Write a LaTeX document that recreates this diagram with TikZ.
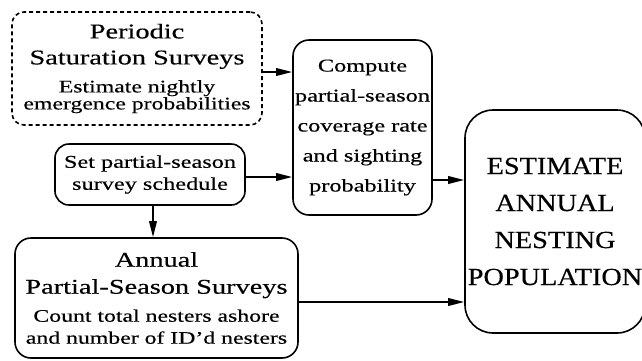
\documentclass[tikz,border=0pt]{standalone}
\usepackage{fontspec}
\setmainfont{Liberation Serif}[FakeStretch=1.35,FakeBold=0.4]
\newfontfamily\estfont{Liberation Serif}[FakeStretch=1.15,FakeBold=0.4]
\usetikzlibrary{arrows.meta}
\newcommand{\ttl}{\fontsize{10.5}{0}\selectfont}
\newcommand{\sml}{\fontsize{8.8}{0}\selectfont}
\newcommand{\mdm}{\fontsize{9}{0}\selectfont}
\newcommand{\tightlines}{\baselineskip=0pt\lineskiplimit=-100pt\lineskip=0pt}

\begin{document}
\begin{tikzpicture}[x=0.5pt,y=-0.5pt,
		box/.style={draw,line width=0.8pt,rounded corners=7pt,align=center,inner sep=0pt,font=\tightlines},
		arr/.style={-{Triangle[length=8pt,width=3.8pt]},line width=0.9pt}]
			% 図の範囲
			\useasboundingbox (0,0) rectangle (642,360);
			\clip (0,0) rectangle (642,360);
			% ノードの配置
			\node[box,dash pattern=on 2pt off 1.5pt,rounded corners=6pt,minimum width=125pt,minimum height=56.5pt] (sat) at (137,68.5)
				{\ttl Periodic\\[13pt]\ttl Saturation Surveys\\[14pt]\sml Estimate nightly\\[8.5pt]\sml emergence probabilities};
			\node[box,minimum width=95pt,minimum height=30.5pt] (sched) at (150,174.5)
				{\mdm Set partial-season\\[11pt]\mdm survey schedule};
			\node[box,rounded corners=8pt,minimum width=141.5pt,minimum height=60pt] (annual) at (156.5,298)
				{\ttl Annual\\[13.5pt]\ttl Partial-Season Surveys\\[14pt]\sml Count total nesters ashore\\[11pt]\sml and number of ID'd nesters};
			\node[box,rounded corners=8pt,minimum width=69.5pt,minimum height=87.5pt] (comp) at (362.5,127.5)
				{\mdm Compute\\[15pt]\mdm partial-season\\[15pt]\mdm coverage rate\\[15pt]\mdm and sighting\\[15pt]\mdm probability};
			\node[box,rounded corners=14pt,minimum width=90pt,minimum height=111.5pt] (est) at (555,221.5)
				{\estfont\fontsize{12.3}{0}\selectfont ESTIMATE\\[18.5pt]\estfont\fontsize{12.3}{0}\selectfont ANNUAL\\[18.5pt]\estfont\fontsize{12.3}{0}\selectfont NESTING\\[18.5pt]\estfont\fontsize{12.3}{0}\selectfont POPULATION};
			% 矢印の描画
			\draw[arr] ([yshift=-1.75pt]sat.east) -- ([yshift=-1.75pt]sat.east -| comp.west);
			\draw[arr] ([yshift=-1.25pt]sched.east) -- ([yshift=-1.25pt]sched.east -| comp.west);
			\draw[arr] ([xshift=1.5pt]sched.south) -- ([xshift=1.5pt]sched.south |- annual.north);
			\draw[arr] ([yshift=-26.25pt]comp.east) -- ([yshift=-26.25pt]comp.east -| est.west);
			\draw[arr] ([yshift=-2pt]annual.east) -- ([yshift=-2pt]annual.east -| est.west);
		\end{tikzpicture}
\end{document}
